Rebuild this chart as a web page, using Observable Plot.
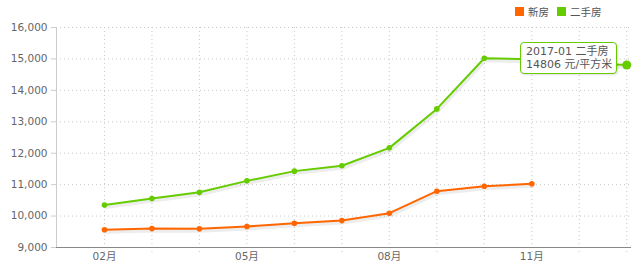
<!DOCTYPE html>
<html>
<head>
<meta charset="utf-8">
<script src="https://cdn.jsdelivr.net/npm/d3@7"></script>
<script src="https://cdn.jsdelivr.net/npm/@observablehq/plot@0.6"></script>
<style>
  html, body { margin: 0; padding: 0; background: #fff; }
  #wrap { position: relative; width: 640px; height: 267px; font-family: "DejaVu Sans", "Noto Sans CJK SC", sans-serif; }
  .legend { position: absolute; top: 4px; left: 515px; font-size: 10.5px; color: #555; white-space: nowrap; display: flex; align-items: center; }
  .legend .sw { display: inline-block; width: 9px; height: 9px; margin-right: 4px; }
  .legend .item { display: inline-flex; align-items: center; margin-right: 8px; }
  .tip { position: absolute; background: #fff; border: 1.5px solid #66cc00; border-radius: 4px; font-size: 11px; line-height: 13px; color: #555; padding: 2px 4px 2px 5px; white-space: nowrap; box-shadow: 1px 1px 2px rgba(0,0,0,0.12); }
</style>
</head>
<body>
<div id="wrap"></div>
<script>
// ---- data ----
const dates = ["2016-02","2016-03","2016-04","2016-05","2016-06","2016-07","2016-08","2016-09","2016-10","2016-11","2016-12","2017-01"];
const monthLabels = ["02月","03月","04月","05月","06月","07月","08月","09月","10月","11月","12月","01月"];
const newHome = [9563, 9605, 9595, 9668, 9773, 9859, 10091, 10791, 10950, 11027];
const secondHand = [10350, 10560, 10760, 11120, 11430, 11600, 12170, 13410, 15020, 14990, 14880, 14806];
const seriesNames = ["新房", "二手房"];
const seriesColors = ["#ff6600", "#66cc00"];
const yTicks = [9000, 10000, 11000, 12000, 13000, 14000, 15000, 16000];
const xTickIdx = [0, 3, 6, 9];
const tipIndex = 11;
const tipUnit = "元/平方米";

const newData = newHome.map((v, i) => ({i, v}));
const secData = secondHand.map((v, i) => ({i, v}));
const allIdx = dates.map((d, i) => i);
const xDomain = [-1.01, 11.1];
const yDomain = [9000, 16000];

const plot = Plot.plot({
  width: 640,
  height: 267,
  marginLeft: 56,
  marginRight: 9,
  marginTop: 27,
  marginBottom: 20,
  style: {fontFamily: "'DejaVu Sans', 'Noto Sans CJK SC', sans-serif", fontSize: "10.5px", color: "#666", background: "#fff"},
  x: {domain: xDomain, label: null},
  y: {domain: yDomain, label: null},
  marks: [
    Plot.gridY(yTicks, {stroke: "#c8c8c8", strokeOpacity: 1, strokeDasharray: "1,3"}),
    Plot.ruleX(allIdx, {x: d => d, y1: yDomain[1], y2: yDomain[0], insetBottom: -7, stroke: "#c8c8c8", strokeDasharray: "1,3"}),
    Plot.ruleX([xDomain[0]], {stroke: "#ccc"}),
    Plot.axisY(yTicks, {tickSize: 5, tickPadding: 4, stroke: "#ccc", tickFormat: d3.format(","), fill: "#666", fontSize: 10.5, label: null}),
    Plot.axisX(xTickIdx, {tickSize: 0, tickPadding: 5, tickFormat: i => monthLabels[i], fill: "#666", fontSize: 10.5, label: null}),
    Plot.ruleY([yDomain[0]], {stroke: "#888"}),
    // shadows
    Plot.line(secData, {x: "i", y: "v", stroke: "#000", strokeOpacity: 0.07, strokeWidth: 4, dx: 1, dy: 2}),
    Plot.line(newData, {x: "i", y: "v", stroke: "#000", strokeOpacity: 0.07, strokeWidth: 4, dx: 1, dy: 2}),
    Plot.line(secData, {x: "i", y: "v", stroke: seriesColors[1], strokeWidth: 2}),
    Plot.line(newData, {x: "i", y: "v", stroke: seriesColors[0], strokeWidth: 2}),
    Plot.dot(secData, {x: "i", y: "v", r: 2.8, fill: seriesColors[1], stroke: "none"}),
    Plot.dot(newData, {x: "i", y: "v", r: 2.8, fill: seriesColors[0], stroke: "none"}),
    Plot.dot(secData.filter(d => d.i === tipIndex), {x: "i", y: "v", r: 4.5, fill: seriesColors[1], stroke: "none"})
  ]
});

const wrap = document.getElementById("wrap");
wrap.appendChild(plot);

// legend
const leg = document.createElement("div");
leg.className = "legend";
seriesNames.forEach((n, k) => {
  const it = document.createElement("span");
  it.className = "item";
  it.innerHTML = `<span class="sw" style="background:${seriesColors[k]}"></span>${n}`;
  leg.appendChild(it);
});
wrap.appendChild(leg);

// tooltip
const sx = plot.scale("x"), sy = plot.scale("y");
const px = sx.apply(tipIndex), py = sy.apply(secondHand[tipIndex]);
const tip = document.createElement("div");
tip.className = "tip";
tip.innerHTML = `${dates[tipIndex]} ${seriesNames[1]}<br>${secondHand[tipIndex]} ${tipUnit}`;
tip.style.right = (640 - px + 9) + "px";
tip.style.top = (py - 23) + "px";
wrap.appendChild(tip);
</script>
</body>
</html>
